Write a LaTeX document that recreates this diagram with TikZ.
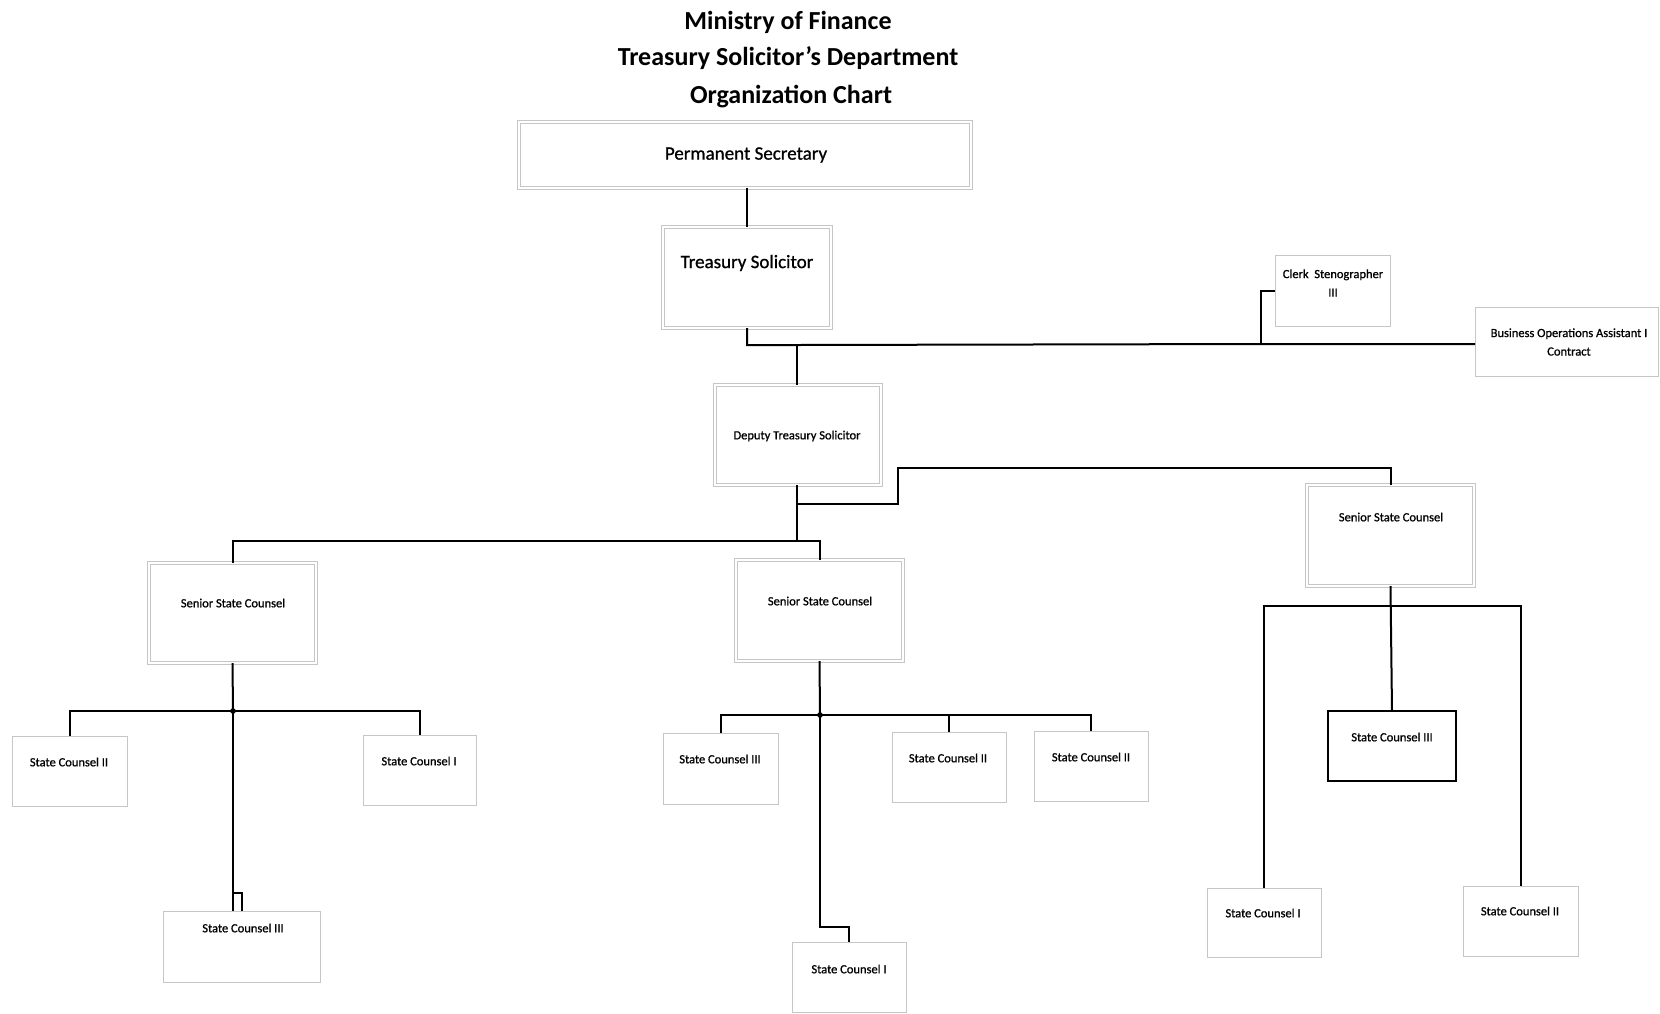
\documentclass[tikz,border=0pt]{standalone}
\usepackage{fontspec}
\setmainfont{Carlito}
\newfontfamily\boxfont{Carlito}[FakeBold=0.9]
\begin{document}
\begin{tikzpicture}[x=1pt,y=-1pt,
  unitbox/.style={draw=gray!45, line width=0.9pt, inner sep=0pt, outer sep=0pt, fill=white},
  headbox/.style={preaction={draw=gray!45, line width=3.6pt}, draw=white, line width=2pt, inner sep=0pt, outer sep=0pt},
  solidbox/.style={draw=black, line width=1.6pt, inner sep=0pt, outer sep=0pt, fill=white},
  link/.style={line width=2pt, black, line join=miter},
  ttl/.style={font=\fontsize{26}{30}\selectfont\bfseries},
  bigtxt/.style={font=\fontsize{19}{22}\selectfont\boxfont},
  smalltxt/.style={font=\fontsize{12.5}{18.5}\selectfont\boxfont, align=center, inner sep=0pt},
]
\useasboundingbox[fill=white] (0,0) rectangle (1660,1013);

% heading
\node[ttl] (t1) at (788,22) {Ministry of Finance};
\node[ttl] (t2) at (788,58) {Treasury Solicitor’s Department};
\node[ttl] (t3) at (791,97) {Organization Chart};

% boxes (centre, width x height)
\node[headbox, minimum width=452pt, minimum height=66pt] (ps) at (745,155) {};
\node[headbox, minimum width=168pt, minimum height=101pt] (ts) at (747,277.5) {};
\node[unitbox, minimum width=115pt, minimum height=71pt] (cs) at (1332.5,290.5) {};
\node[unitbox, minimum width=183pt, minimum height=69pt] (boa) at (1566.5,341.5) {};
\node[headbox, minimum width=166pt, minimum height=100pt] (dts) at (798,435) {};
\node[headbox, minimum width=167pt, minimum height=100pt] (sscL) at (232.5,613) {};
\node[headbox, minimum width=167pt, minimum height=101pt] (sscM) at (819.5,610.5) {};
\node[headbox, minimum width=167pt, minimum height=101pt] (sscR) at (1390.5,535.5) {};

\node[unitbox, minimum width=115pt, minimum height=70pt] (scL2) at (69.5,771) {};
\node[unitbox, minimum width=113pt, minimum height=70pt] (scL1) at (419.5,770) {};
\node[unitbox, minimum width=157pt, minimum height=71pt] (scL3) at (241.5,946.5) {};

\node[unitbox, minimum width=115pt, minimum height=71pt] (scM3) at (720.5,768.5) {};
\node[unitbox, minimum width=114pt, minimum height=70pt] (scM2a) at (949,767) {};
\node[unitbox, minimum width=114pt, minimum height=70pt] (scM2b) at (1091,766) {};
\node[unitbox, minimum width=114pt, minimum height=70pt] (scM1) at (849,977) {};

\node[solidbox, minimum width=128pt, minimum height=70pt] (scR3) at (1392,746) {};
\node[unitbox, minimum width=114pt, minimum height=69pt] (scR1) at (1264,922.5) {};
\node[unitbox, minimum width=115pt, minimum height=70pt] (scR2) at (1520.5,921) {};

% box texts
\node[bigtxt] (ps-t) at (746,155) {Permanent Secretary};
\node[bigtxt] (ts-t) at (747,263) {Treasury Solicitor};
\node[smalltxt] (cs-t) at (1333,283) {Clerk\ \ Stenographer\\III};
\node[smalltxt] (boa-t) at (1569,342) {Business Operations Assistant I\\Contract};
\node[smalltxt] (dts-t) at (797,436) {Deputy Treasury Solicitor};
\node[smalltxt] (sscL-t) at (233,603) {Senior State Counsel};
\node[smalltxt] (sscM-t) at (820,601) {Senior State Counsel};
\node[smalltxt] (sscR-t) at (1391,517) {Senior State Counsel};
\node[smalltxt] (scL2-t) at (69,762) {State Counsel II};
\node[smalltxt] (scL1-t) at (419,761) {State Counsel I};
\node[smalltxt] (scL3-t) at (243,928) {State Counsel III};
\node[smalltxt] (scM3-t) at (720,759) {State Counsel III};
\node[smalltxt] (scM2a-t) at (948,758) {State Counsel II};
\node[smalltxt] (scM2b-t) at (1091,757) {State Counsel II};
\node[smalltxt] (scM1-t) at (849,969) {State Counsel I};
\node[smalltxt] (scR3-t) at (1392,737) {State Counsel III};
\node[smalltxt] (scR1-t) at (1263,913) {State Counsel I};
\node[smalltxt] (scR2-t) at (1520,911) {State Counsel II};

% junction points
\coordinate (jTS) at (747,345);
\coordinate (jD) at (797,345);
\coordinate (jCS) at (1261,344);
\coordinate (jDL) at (797,541);
\coordinate (jDR) at (797,504);
\coordinate (jL) at (233,711);
\coordinate (jM) at (820,715);
\coordinate (jR) at (1391,606);

% permanent secretary to treasury solicitor
\draw[link] (ps.south -| ts.north) -- (ts.north);
% treasury solicitor line
\draw[link] (ts.south) -- (jTS) -- (jD) -- (jCS) -- (boa.west |- jCS);
\draw[link] (jD) -- (dts.north -| jD);
\draw[link] (jCS) -- (jCS |- 0,291) -- (cs.west |- 0,291);

% deputy treasury solicitor to senior counsels
\draw[link] (dts.south -| jDL) -- (jDL);
\draw[link] (jDL) -- (jDL -| sscL.north) -- (sscL.north);
\draw[link] (jDL) -- (jDL -| sscM.north) -- (sscM.north);
\draw[link] (jDR) -- (898,504) -- (898,468) -- (sscR.north |- 0,468) -- (sscR.north);

% left senior counsel
\draw[link] (sscL.south) -- (jL);
\draw[link] (scL2.north) -- (scL2.north |- jL) -- (scL1.north |- jL) -- (scL1.north);
\draw[link] (jL) -- (jL |- scL3.north);
\draw[link] (233,893) -- (242,893) -- (242,911);
\fill (jL) circle (2.8pt);

% middle senior counsel
\draw[link] (sscM.south) -- (jM);
\draw[link] (scM3.north) -- (scM3.north |- jM) -- (scM2b.north |- jM) -- (scM2b.north);
\draw[link] (scM2a.north |- jM) -- (scM2a.north);
\draw[link] (jM) -- (820,927) -- (849,927) -- (scM1.north);
\fill (jM) circle (2.8pt);

% right senior counsel
\draw[link] (sscR.south) -- (scR3.north);
\draw[link] (scR1.north) -- (scR1.north |- jR) -- (scR2.north |- jR) -- (scR2.north);
\end{tikzpicture}
\end{document}
